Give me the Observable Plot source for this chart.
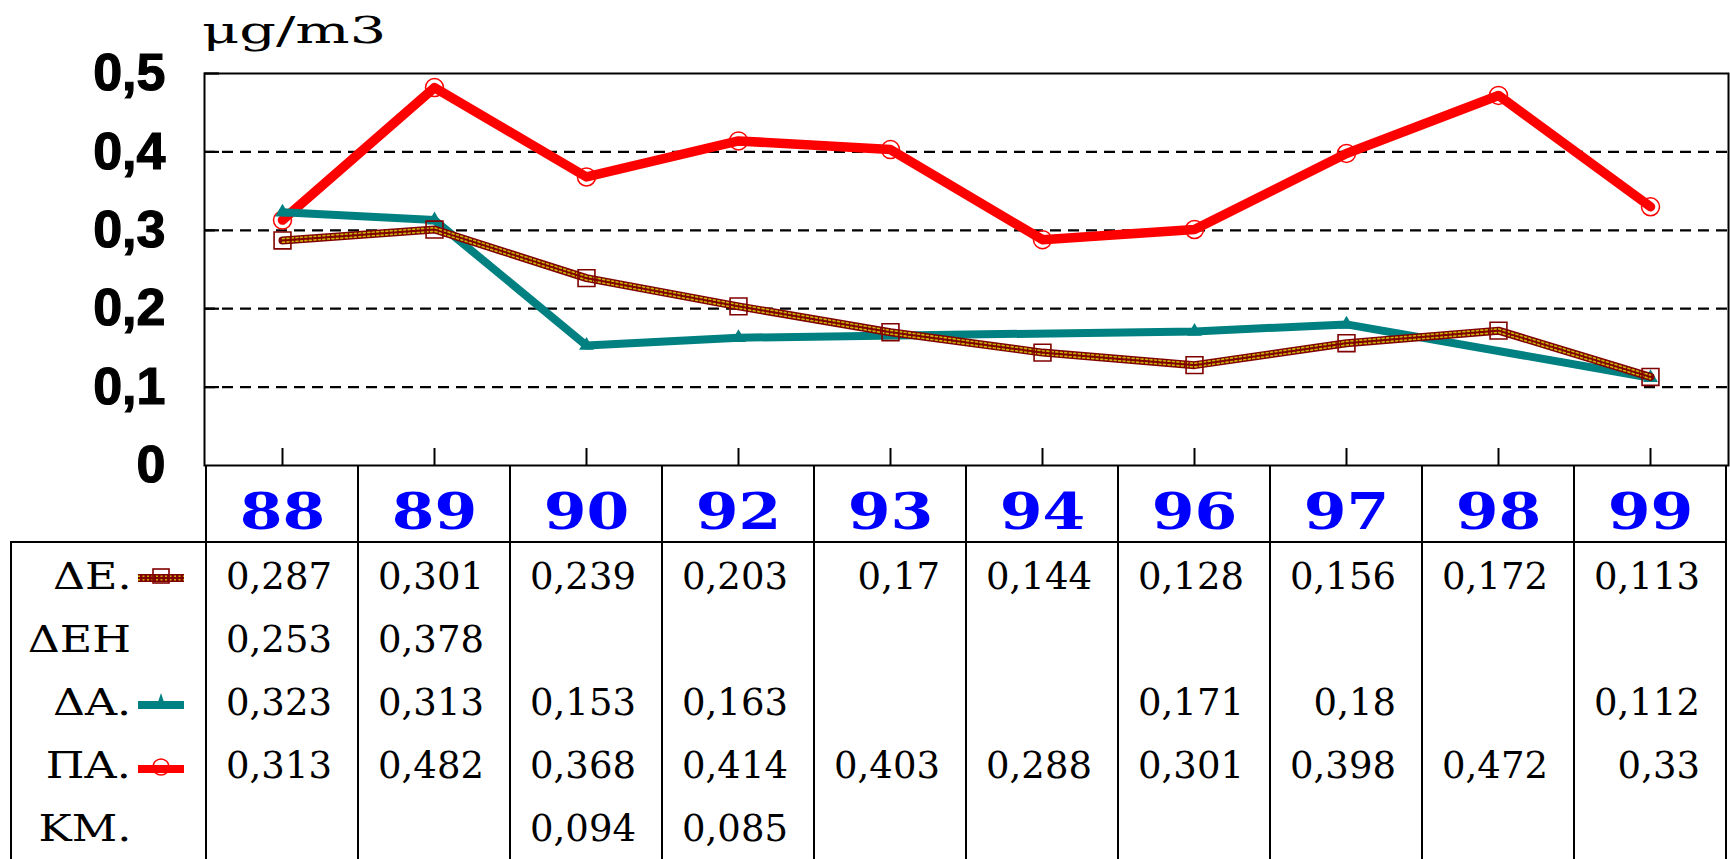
<!DOCTYPE html>
<html>
<head>
<meta charset="utf-8">
<script src="https://cdn.jsdelivr.net/npm/d3@7"></script>
<script src="https://cdn.jsdelivr.net/npm/@observablehq/plot@0.6"></script>
<style>
html, body { margin: 0; padding: 0; background: #fff; width: 1730px; height: 859px; overflow: hidden; }
#head { position: relative; height: 45px; }
#unit { position: absolute; left: 202px; top: 12px; font-family: "DejaVu Serif"; font-size: 37px; line-height: 37px;
        transform: scaleX(1.55); transform-origin: left center; white-space: nowrap; color: #000; }
#chart svg { display: block; }
#table { position: relative; height: 318px; }
.line { position: absolute; background: #000; }
.val { position: absolute; font-family: "DejaVu Serif"; font-size: 37px; line-height: 63px; height: 63px;
       text-align: right; box-sizing: border-box; padding-right: 26px; color: #000; white-space: nowrap; }
.lab { position: absolute; font-family: "DejaVu Serif"; font-size: 37px; line-height: 63px; height: 63px;
       text-align: right; color: #000; white-space: nowrap; }
.lab span { display: inline-block; transform: scaleX(1.2); transform-origin: right center; }
.sym { position: absolute; }
</style>
</head>
<body>
<div id="head"><span id="unit">μg/m3</span></div>
<div id="chart"></div>
<div id="table"></div>
<script>
// ---- data ----
const years = ["88", "89", "90", "92", "93", "94", "96", "97", "98", "99"];
const seriesDE  = [0.287, 0.301, 0.239, 0.203, 0.17, 0.144, 0.128, 0.156, 0.172, 0.113];
const seriesDEH = [0.253, 0.378, null, null, null, null, null, null, null, null];
const seriesDA  = [0.323, 0.313, 0.153, 0.163, null, null, 0.171, 0.18, null, 0.112];
const seriesPA  = [0.313, 0.482, 0.368, 0.414, 0.403, 0.288, 0.301, 0.398, 0.472, 0.33];
const seriesKM  = [null, null, 0.094, 0.085, null, null, null, null, null, null];
const rowLabels = ["ΔΕ.", "ΔΕΗ", "ΔΑ.", "ΠΑ.", "ΚΜ."];
const rowSeries = [seriesDE, seriesDEH, seriesDA, seriesPA, seriesKM];
const rowSymbols = ["square", null, "triangle", "circle", null];
const yTicks = [0, 0.1, 0.2, 0.3, 0.4, 0.5];
const gridTicks = [0.1, 0.2, 0.3, 0.4];

const toRows = s => years.map((year, i) => ({year, v: s[i]})).filter(d => d.v != null);
const deData = toRows(seriesDE);
const daData = toRows(seriesDA);
const paData = toRows(seriesPA);
const fmtY = d => d === 0 ? "0" : d3.format(".1f")(d).replace(".", ",");
const fmtV = v => String(v).replace(".", ",");

const W = 1730, H = 496;
const chart = Plot.plot({
  width: W, height: H,
  marginTop: 28, marginBottom: 76, marginLeft: 204, marginRight: 2,
  style: {background: "white", overflow: "visible"},
  x: {type: "point", domain: years, padding: 0.5, label: null},
  y: {domain: [0, 0.5], label: null},
  marks: [
    Plot.ruleY(gridTicks, {stroke: "#000", strokeWidth: 2.2, strokeDasharray: "11,7"}),
    Plot.axisY(yTicks.slice(1), {tickSize: -15, tickFormat: () => "", strokeWidth: 2.2, stroke: "#000", label: null}),
    Plot.axisY(yTicks, {tickSize: 0, tickPadding: 39, tickFormat: fmtY, fontSize: 52, fontWeight: "bold",
                        fontFamily: "Liberation Sans", label: null}),
    Plot.axisX({tickSize: -17, tickFormat: () => "", strokeWidth: 2, stroke: "#000", label: null}),
    Plot.axisX({tickSize: 0, tickPadding: 28, fontSize: 50, fontWeight: "bold", fontFamily: "DejaVu Serif", label: null}),
    Plot.line(paData, {x: "year", y: "v", stroke: "#ff0000", strokeWidth: 9.5, strokeLinejoin: "round"}),
    Plot.dot(paData, {x: "year", y: "v", r: 9, stroke: "#ff0000", strokeWidth: 1.5, fill: "none"}),
    Plot.line(daData, {x: "year", y: "v", stroke: "#008080", strokeWidth: 8}),
    Plot.dot(daData, {x: "year", y: "v", symbol: "triangle", r: 5.5, fill: "#008080", stroke: "none"}),
    Plot.line(deData, {x: "year", y: "v", stroke: "#800000", strokeWidth: 8}),
    Plot.line(deData, {x: "year", y: "v", dy: -1.8, stroke: "#c8b400", strokeWidth: 1.6, strokeDasharray: "2,2.5"}),
    Plot.line(deData, {x: "year", y: "v", dy: 1.8, stroke: "#c8b400", strokeWidth: 1.6, strokeDasharray: "2,2.5"}),
    Plot.dot(deData, {x: "year", y: "v", symbol: "square", r: 9.5, stroke: "#800000", strokeWidth: 1.6, fill: "none"}),
    Plot.frame({stroke: "#000", strokeWidth: 2})
  ]
});
document.getElementById("chart").appendChild(chart);

const svg = d3.select(chart);
// year labels: blue, widened
svg.selectAll('g[aria-label="x-axis tick label"] text')
  .attr("fill", "#0000ff")
  .each(function () {
    const t = d3.select(this).attr("transform") || "";
    d3.select(this).attr("transform", t + " scale(1.23,1)");
  });
svg.selectAll('g[aria-label="x-axis tick label"]').attr("fill", "#0000ff");
// heavier y labels
svg.selectAll('g[aria-label="y-axis tick label"]').attr("stroke", "#000").attr("stroke-width", 1.2);

// column boundaries from the x scale
const xs = chart.scale("x");
const ys = chart.scale("y");
const centers = years.map(y => xs.apply(y));
const step = centers[1] - centers[0];
const bounds = centers.map(c => c - step / 2).concat(centers[centers.length - 1] + step / 2);
svg.append("g").selectAll("line").data(bounds).join("line")
  .attr("x1", d => d).attr("x2", d => d)
  .attr("y1", ys.apply(0)).attr("y2", H)
  .attr("stroke", "#000").attr("stroke-width", 2);

// ---- table below ----
const tbl = d3.select("#table");
const tableLeft = 11;
const rowTop = i => 4 + i * 62.9;
tbl.append("div").attr("class", "line")
  .style("left", (tableLeft - 1) + "px").style("top", "0px")
  .style("width", (bounds[bounds.length - 1] - tableLeft + 2) + "px").style("height", "2px");
tbl.append("div").attr("class", "line")
  .style("left", (tableLeft - 1) + "px").style("top", "0px").style("bottom", "0px").style("width", "2px");
bounds.forEach(b => {
  tbl.append("div").attr("class", "line")
    .style("left", (b - 1) + "px").style("top", "0px").style("bottom", "0px").style("width", "2px");
});

rowLabels.forEach((lab, i) => {
  tbl.append("div").attr("class", "lab")
    .style("left", "0px").style("width", "131px").style("top", rowTop(i) + "px")
    .append("span").text(lab);
  const sym = rowSymbols[i];
  if (sym) {
    const s = tbl.append("svg").attr("class", "sym").attr("width", 46).attr("height", 24)
      .style("left", "138px").style("top", (rowTop(i) + 31 - 12) + "px");
    if (sym === "square") {
      s.append("line").attr("x1", 0).attr("x2", 46).attr("y1", 14).attr("y2", 14).attr("stroke", "#800000").attr("stroke-width", 8);
      s.append("line").attr("x1", 0).attr("x2", 46).attr("y1", 12.2).attr("y2", 12.2).attr("stroke", "#c8b400").attr("stroke-width", 1.6).attr("stroke-dasharray", "2,2.5");
      s.append("line").attr("x1", 0).attr("x2", 46).attr("y1", 15.8).attr("y2", 15.8).attr("stroke", "#c8b400").attr("stroke-width", 1.6).attr("stroke-dasharray", "2,2.5");
      s.append("rect").attr("x", 15).attr("y", 5).attr("width", 16).attr("height", 14).attr("fill", "none").attr("stroke", "#800000").attr("stroke-width", 1.6);
    } else if (sym === "triangle") {
      s.append("line").attr("x1", 0).attr("x2", 46).attr("y1", 15).attr("y2", 15).attr("stroke", "#008080").attr("stroke-width", 8);
      s.append("path").attr("d", "M23,3 L27,15 L19,15 Z").attr("fill", "#008080");
    } else if (sym === "circle") {
      s.append("circle").attr("cx", 23).attr("cy", 14).attr("r", 8).attr("fill", "#fff").attr("stroke", "#ff0000").attr("stroke-width", 1.5);
      s.append("line").attr("x1", 0).attr("x2", 46).attr("y1", 16).attr("y2", 16).attr("stroke", "#ff0000").attr("stroke-width", 8);
    }
  }
  rowSeries[i].forEach((v, j) => {
    if (v == null) return;
    tbl.append("div").attr("class", "val")
      .style("left", bounds[j] + "px").style("width", step + "px").style("top", rowTop(i) + "px")
      .text(fmtV(v));
  });
});
</script>
</body>
</html>
